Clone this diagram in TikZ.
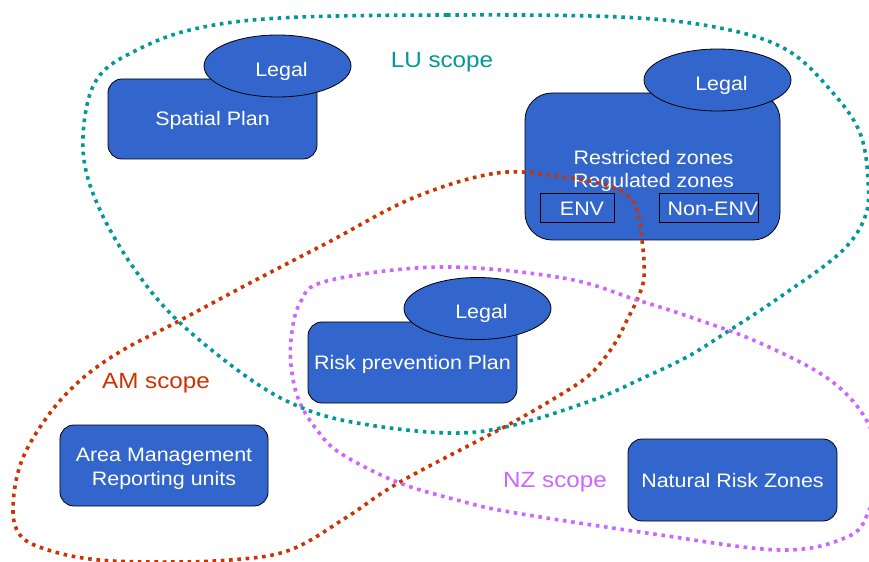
\documentclass[tikz,border=0pt]{standalone}
\usepackage{fontspec}
\setmainfont{Liberation Sans}[FakeStretch=1.1]
\usetikzlibrary{shapes.geometric}
\definecolor{boxblue}{HTML}{3366CC}
\definecolor{luteal}{HTML}{009999}
\definecolor{amred}{HTML}{CC3300}
\definecolor{nzpurple}{HTML}{CC66FF}
\newcommand\myboxfont{\fontsize{19.5bp}{23.5bp}\selectfont}
\newcommand\mylabelfont{\fontsize{22bp}{26bp}\selectfont}
\begin{document}
\begin{tikzpicture}[x=1bp,y=-1bp,
  bluebox/.style={draw=black, line width=0.8bp, fill=boxblue, rounded corners=14bp,
    text=white, font=\myboxfont, inner sep=0pt, text height=14bp, text depth=0pt},
  legal/.style={ellipse, draw=black, line width=0.8bp, fill=boxblue,
    minimum width=147bp, minimum height=62bp, text=white, font=\myboxfont, inner sep=0pt,
    text height=14bp, text depth=0pt},
  subbox/.style={draw=black, line width=0.8bp, text=white, font=\myboxfont, inner sep=0pt,
    text height=14bp, text depth=0pt},
  boxtext/.style={text=white, font=\myboxfont, align=center, inner sep=0pt},
  scopeline/.style={line width=3.6bp, dash pattern=on 3.6bp off 4.7bp},
  scopelabel/.style={font=\mylabelfont, inner sep=0pt, text height=15.7bp, text depth=0pt}]
\useasboundingbox (0,0) rectangle (869,562);
\clip (0,0) rectangle (869,562);
\fill[white] (0,0) rectangle (869,562);

% Spatial plan
\node[bluebox, minimum width=209bp, minimum height=80bp] (spatial) at (212.5,119) {Spatial Plan};
\node[legal] (legal1) at (277.5,66) {\hspace{8bp}\raisebox{-3.5bp}{Legal}};

% Restricted / regulated zones
\node[bluebox, rounded corners=27bp, minimum width=255bp, minimum height=147bp] (zones) at (652.5,166.5) {};
\node[boxtext] (zonetext) at (653.5,171) {Restricted zones\\[-0.2bp]Regulated zones};
\node[subbox, minimum width=74bp, minimum height=29bp] (env) at (577,207.5) {\hspace{10bp}\raisebox{-1.5bp}{ENV}};
\node[subbox, minimum width=98bp, minimum height=29bp] (nonenv) at (709,207.5) {\hspace{8bp}\raisebox{-1.5bp}{Non-ENV}};
\node[legal] (legal2) at (717.5,80) {\hspace{8bp}\raisebox{-3.5bp}{Legal}};

% Risk prevention plan
\node[bluebox, minimum width=209bp, minimum height=81bp] (risk) at (412.5,362.5) {Risk prevention Plan};
\node[legal] (legal3) at (477.5,308.5) {\hspace{8bp}\raisebox{-3.5bp}{Legal}};

% Area management
\node[bluebox, minimum width=208bp, minimum height=81bp] (area) at (164,465.5) {};
\node[boxtext] (areatext) at (164,468.5) {Area Management\\[0.8bp]Reporting units};

% Natural risk zones
\node[bluebox, minimum width=209bp, minimum height=82bp] (natural) at (732.5,480) {Natural Risk Zones};

% LU scope (teal)
\draw[scopeline, luteal] plot[smooth cycle, tension=0.6] coordinates {
  (280,18) (447,15) (620,17) (720,28) (787,50) (833,93) (860,133) (868,180)
  (865,217) (840,253) (780,297) (727,332) (687,357) (643,378) (593,400)
  (510,426) (447,433) (357,423) (300,407) (247,377) (177,320) (133,267)
  (100,210) (84,160) (86,110) (100,75) (133,52) (190,30)};

% AM scope (red)
\draw[scopeline, amred] plot[smooth cycle, tension=0.6] coordinates {
  (413,198) (497,173) (563,177) (612,187) (635,205) (642,240) (644,277)
  (637,300) (627,320) (617,340) (603,360) (587,377) (560,395) (508,425)
  (400,482) (347,517) (290,550) (230,560) (150,562) (90,559) (45,549) (20,535)
  (13,507) (22,460) (50,413) (83,378) (123,350) (177,322) (250,283) (327,243)};

% NZ scope (purple)
\draw[scopeline, nzpurple] plot[smooth cycle, tension=0.6] coordinates {
  (440,267) (563,278) (637,300) (693,318) (760,343) (830,380) (868,423)
  (878,470) (868,513) (847,537) (780,550) (647,533) (510,512) (457,500)
  (397,482) (340,453) (317,430) (300,403) (292,373) (291,340) (300,303) (327,281)};

% scope labels
\node[scopelabel, text=luteal] (lulabel) at (442,60) {LU scope};
\node[scopelabel, text=amred] (amlabel) at (156,380.5) {AM scope};
\node[scopelabel, text=nzpurple] (nzlabel) at (555,480) {NZ scope};
\end{tikzpicture}
\end{document}
